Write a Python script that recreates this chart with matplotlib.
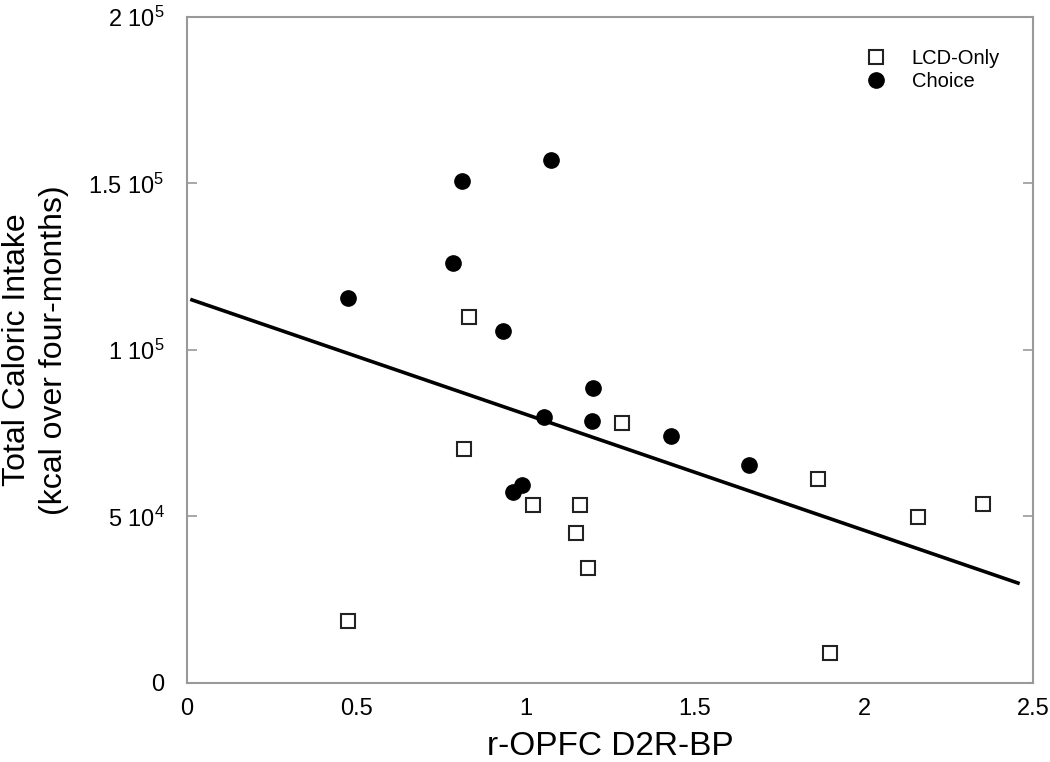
import matplotlib.pyplot as plt
import numpy as np

plt.rcParams.update({
    "font.family": ["Liberation Sans", "DejaVu Sans"],
    "mathtext.fontset": "custom",
    "mathtext.rm": "Liberation Sans",
    "mathtext.it": "Liberation Sans",
})

# LCD-only group (open squares)
lcd_x = [0.476, 0.833, 0.819, 1.285, 1.022, 1.161, 1.149, 1.185, 1.865, 2.160, 2.352, 1.900]
lcd_y = [18600, 109900, 70300, 78100, 53500, 53500, 45000, 34500, 61300, 49800, 53750, 9000]

# Choice group (filled circles)
choice_x = [0.476, 0.813, 1.076, 0.786, 0.934, 1.200, 1.055, 1.197, 1.430, 1.661, 0.963, 0.990]
choice_y = [115600, 150750, 157060, 126100, 105700, 88600, 79900, 78700, 74200, 65500, 57400, 59500]

# regression line
fit_x = [0.015, 2.455]
fit_y = [115000, 30000]

xticks = [0, 0.5, 1, 1.5, 2, 2.5]
xtick_labels = ["0", "0.5", "1", "1.5", "2", "2.5"]
yticks = [0, 50000, 100000, 150000, 200000]
ytick_labels = ["0", r"5 10$^{4}$", r"1 10$^{5}$", r"1.5 10$^{5}$", r"2 10$^{5}$"]

fig = plt.figure(figsize=(10.5, 7.62), dpi=100)
ax = fig.add_axes([0.178, 0.1037, 0.806, 0.8743])

ax.plot(fit_x, fit_y, color="black", lw=2.6, zorder=2)
ax.plot(lcd_x, lcd_y, ls="none", marker="s", ms=10.5, mfc="white", mec="#222222",
        mew=1.5, label="LCD-Only", zorder=3)
ax.plot(choice_x, choice_y, ls="none", marker="o", ms=11, mfc="black", mec="black",
        label="Choice", zorder=3)

ax.set_xlim(0, 2.5)
ax.set_ylim(0, 200000)
ax.set_xticks(xticks)
ax.set_xticklabels(xtick_labels)
ax.set_yticks(yticks)
ax.set_yticklabels(ytick_labels)

for sp in ax.spines.values():
    sp.set_color("#999999")
    sp.set_linewidth(1.5)

ax.tick_params(axis="x", length=0, pad=11, labelsize=17)
ax.tick_params(axis="y", direction="in", length=7.5, width=1.2, color="#999999",
               right=True, pad=16, labelsize=17)

ax.set_xlabel("r-OPFC D2R-BP", fontsize=24, labelpad=8)
ax.set_ylabel("Total Caloric Intake\n(kcal over four-months)", fontsize=23,
              labelpad=14, linespacing=1.3)

ax.legend(loc="upper right", bbox_to_anchor=(0.982, 0.979), frameon=False, fontsize=14.5,
          handletextpad=0.75, labelspacing=0.2, borderaxespad=0.5)

fig.savefig("out.png", dpi=100)
